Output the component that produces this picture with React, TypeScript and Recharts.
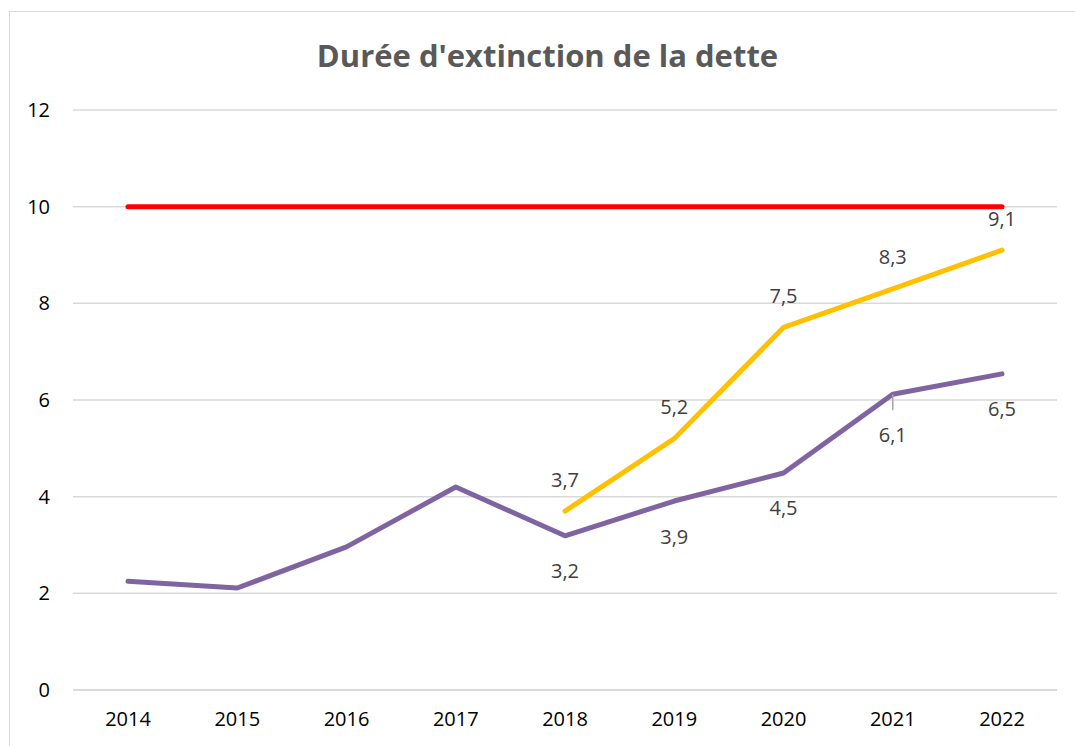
import { LineChart, Line, XAxis, YAxis, CartesianGrid, LabelList } from "recharts";

const years = ["2014", "2015", "2016", "2017", "2018", "2019", "2020", "2021", "2022"];
const seuil = [10, 10, 10, 10, 10, 10, 10, 10, 10];
const projection = [null, null, null, null, 3.7, 5.2, 7.5, 8.3, 9.1];
const realise = [2.25, 2.11, 2.96, 4.2, 3.19, 3.91, 4.49, 6.12, 6.54];
const yTicks = [0, 2, 4, 6, 8, 10, 12];

const data = years.map((year, i) => ({
  year,
  seuil: seuil[i],
  projection: projection[i],
  realise: realise[i],
}));

const FONT = "'Open Sans', sans-serif";
const fmt = (v: number) => v.toFixed(1).replace(".", ",");

function TopLabel(props: any) {
  const { x, y, value } = props;
  if (value == null) return null;
  return (
    <text x={x} y={y - 32} textAnchor="middle" dominantBaseline="central"
      fontFamily={FONT} fontSize={20} fill="#404040">
      {fmt(value)}
    </text>
  );
}

function BottomLabel(props: any) {
  const { x, y, value, index } = props;
  if (value == null || index < 4) return null;
  const leader = index === 7;
  return (
    <g>
      {leader && <line x1={x} y1={y} x2={x} y2={y + 16} stroke="#a6a6a6" strokeWidth={1.5} />}
      <text x={x} y={y + (leader ? 40 : 35)} textAnchor="middle" dominantBaseline="central"
        fontFamily={FONT} fontSize={20} fill="#404040">
        {fmt(value)}
      </text>
    </g>
  );
}

export default function App() {
  return (
    <div style={{ position: "absolute", left: 0, top: 0, width: 1075, height: 746, overflow: "hidden", background: "#fff" }}>
      <div style={{ position: "absolute", left: 9, top: 11, width: 1200, height: 900, borderTop: "1.5px solid #d9d9d9", borderLeft: "1.5px solid #d9d9d9" }} />
      <LineChart width={1075} height={746} data={data} margin={{ top: 110, right: 18, bottom: 0, left: 0 }}>
        <CartesianGrid vertical={false} stroke="#d9d9d9" strokeWidth={1.5} />
        <XAxis dataKey="year" height={56} padding={{ left: 55, right: 55 }} tickLine={false}
          axisLine={{ stroke: "#d9d9d9", strokeWidth: 1.5 }} tickMargin={16}
          tick={{ fill: "#000", fontSize: 20, fontFamily: FONT }} />
        <YAxis width={73} domain={[0, 12]} ticks={yTicks} axisLine={false} tickLine={false} tickMargin={17}
          tick={{ fill: "#000", fontSize: 20, fontFamily: FONT }} />
        <Line dataKey="seuil" stroke="#ff0000" strokeWidth={5} strokeLinecap="round" dot={false} activeDot={false} isAnimationActive={false} />
        <Line dataKey="projection" stroke="#ffc000" strokeWidth={5} strokeLinecap="round" dot={false} activeDot={false} isAnimationActive={false}>
          <LabelList dataKey="projection" content={TopLabel} />
        </Line>
        <Line dataKey="realise" stroke="#8064a2" strokeWidth={5} strokeLinecap="round" strokeLinejoin="round" dot={false} activeDot={false} isAnimationActive={false}>
          <LabelList dataKey="realise" content={BottomLabel} />
        </Line>
      </LineChart>
      <svg width={1075} height={100} style={{ position: "absolute", left: 0, top: 0, pointerEvents: "none" }}>
        <text x={547.5} y={67} textAnchor="middle" fontFamily={FONT} fontWeight={700} fontSize={31} fill="#595959">
          Durée d'extinction de la dette
        </text>
      </svg>
    </div>
  );
}
